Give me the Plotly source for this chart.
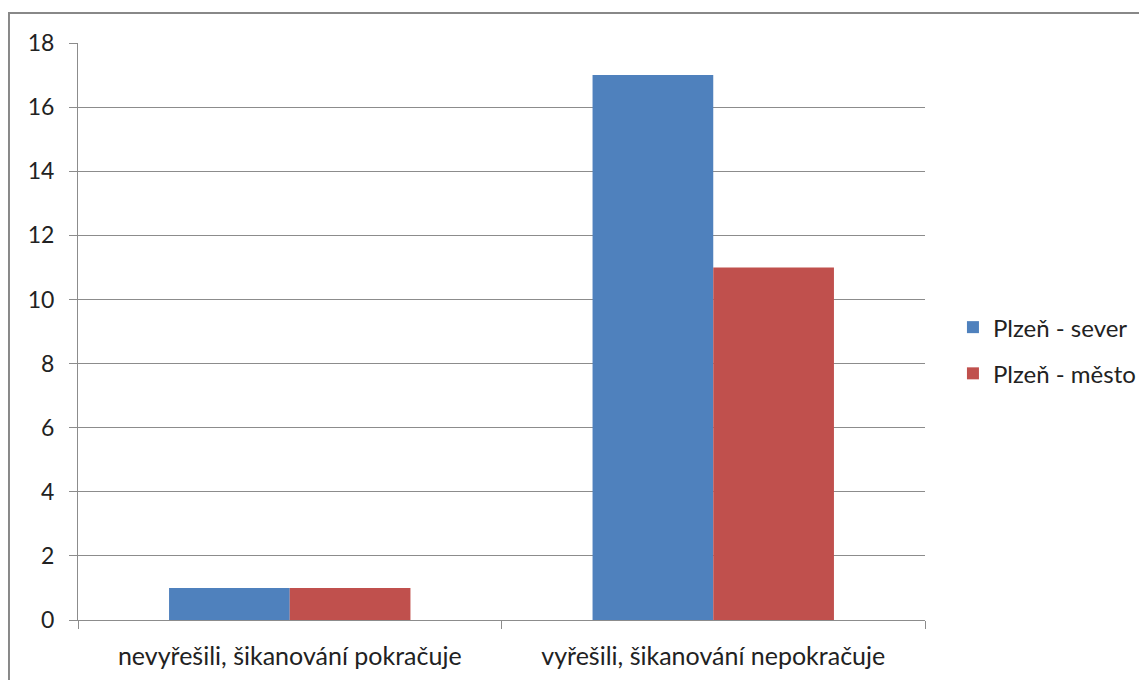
import plotly.graph_objects as go

categories = ["nevyřešili, šikanování pokračuje", "vyřešili, šikanování nepokračuje"]
sever = [1, 17]
mesto = [1, 11]
series_names = ["Plzeň - sever", "Plzeň - město"]
y_ticks = [0, 2, 4, 6, 8, 10, 12, 14, 16, 18]

FONT = "Lato"
GRID = "#8c8c8c"

fig = go.Figure()
fig.add_trace(go.Bar(x=categories, y=sever, name=series_names[0],
                     marker=dict(color="#4F81BD", line=dict(width=0)),
                     legendgroup="a"))
fig.add_trace(go.Bar(x=categories, y=mesto, name=series_names[1],
                     marker=dict(color="#C0504D", line=dict(width=0)),
                     legendgroup="b"))

# the page puts the plot 8px in from the top-left corner, so margins are trimmed by 8
fig.update_layout(
    width=1147, height=680,
    margin=dict(l=70, r=230, t=35, b=68),
    paper_bgcolor="white", plot_bgcolor="white",
    barmode="group", bargap=0.43, bargroupgap=0,
    font=dict(family=FONT, size=24, color="#222222"),
    legend=dict(x=1.033, y=0.467, xanchor="left", yanchor="middle",
                font=dict(size=24), tracegroupgap=12,
                bgcolor="rgba(0,0,0,0)",
                itemwidth=30, traceorder="grouped"),
    xaxis=dict(showline=True, linecolor=GRID, linewidth=1,
               ticks="outside", tickson="boundaries", ticklen=8,
               tickcolor=GRID, showgrid=False, ticklabelstandoff=14,
               tickfont=dict(size=25)),
    yaxis=dict(range=[0, 18], tickvals=y_ticks, showline=True,
               linecolor=GRID, linewidth=1, ticks="outside", ticklen=8,
               tickcolor=GRID, showgrid=True, gridcolor=GRID, gridwidth=1,
               zeroline=False, ticklabelstandoff=10, tickfont=dict(size=23)),
    shapes=[dict(type="rect", xref="paper", yref="paper",
                 x0=-0.0815, x1=1.27, y0=-0.12, y1=1.052,
                 line=dict(color="#888888", width=2), layer="below")],
)

fig.write_html("out.html")
